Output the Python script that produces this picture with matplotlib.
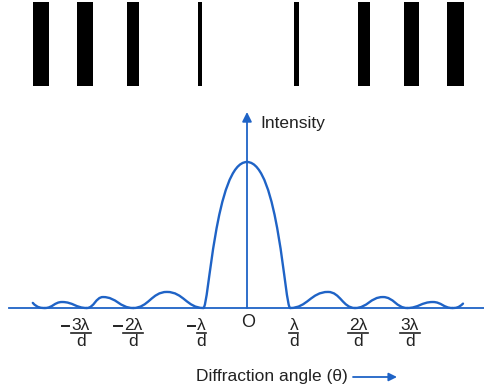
import matplotlib
matplotlib.use("Agg")
import matplotlib.pyplot as plt
import matplotlib.transforms as mtransforms
from matplotlib.path import Path
from matplotlib.patches import PathPatch, Rectangle

plt.rcParams['font.family'] = ['Liberation Sans', 'DejaVu Sans']

BLUE = '#1f63c6'
INK = '#222222'

# fringe pattern on the screen (angle units, 1 unit ~ lambda/d spacing of the sketch)
fringe_pos = [-4.58, -3.60, -2.53, -1.04, 1.10, 2.60, 3.65, 4.63]
fringe_width = [0.36, 0.36, 0.27, 0.09, 0.11, 0.27, 0.33, 0.38]

# intensity curve: minima and side-lobe peaks
central_min = [-0.97, 0.96]
central_peak = 1.0
left_min = [-0.97, -2.53, -3.56, -4.49]
left_peak_x = [-1.78, -3.20, -4.11]
left_peak_h = [0.11, 0.075, 0.041]
right_min = [0.96, 2.40, 3.56, 4.56]
right_peak_x = [1.80, 3.02, 4.13]
right_peak_h = [0.11, 0.075, 0.041]
left_tail = (-4.76, 0.035)
right_tail = (4.80, 0.03)

# tick labels: (position, sign, numerator)
tick_pos = [-3.69, -2.53, -1.02, 1.04, 2.47, 3.62]
tick_sign = ['-', '-', '-', '', '', '']
tick_num = ['3λ', '2λ', 'λ', 'λ', '2λ', '3λ']

fig = plt.figure(figsize=(4.84, 3.89), dpi=100)
ax = fig.add_axes([0, 0, 1, 1])
ax.set_xlim(-247 / 45, 237 / 45)
ax.set_ylim((308 - 389) / 146, 308 / 146)
ax.axis('off')

# fringes
for x, w in zip(fringe_pos, fringe_width):
    ax.add_patch(Rectangle((x - w / 2, (308 - 86) / 146), w, 84 / 146,
                           facecolor='black', edgecolor='none'))


def bump(a, p, h, b):
    # one lobe, horizontal tangents at minima and at peak
    verts = [(a, 0), (a + 0.45 * (p - a), 0), (p - 0.45 * (p - a), h), (p, h),
             (p + 0.45 * (b - p), h), (b - 0.45 * (b - p), 0), (b, 0)]
    codes = [Path.MOVETO] + [Path.CURVE4] * 6
    return Path(verts, codes)


paths = []
# central maximum
a, b = central_min
paths.append(Path([(a, 0), (a + 0.12, 0), (-0.70, central_peak), (0, central_peak),
                   (0.70, central_peak), (b - 0.12, 0), (b, 0)],
                  [Path.MOVETO] + [Path.CURVE4] * 6))
for i in range(3):
    paths.append(bump(left_min[i], left_peak_x[i], left_peak_h[i], left_min[i + 1]))
    paths.append(bump(right_min[i], right_peak_x[i], right_peak_h[i], right_min[i + 1]))
# tails at both ends
paths.append(Path([left_tail, (left_tail[0] + 0.1, 0.0), (left_min[-1] - 0.08, 0), (left_min[-1], 0)],
                  [Path.MOVETO] + [Path.CURVE4] * 3))
paths.append(Path([(right_min[-1], 0), (right_min[-1] + 0.08, 0), (right_tail[0] - 0.1, 0.0), right_tail],
                  [Path.MOVETO] + [Path.CURVE4] * 3))
for p in paths:
    ax.add_patch(PathPatch(p, facecolor='none', edgecolor=BLUE, lw=1.7, capstyle='round'))

# axes lines
ax.plot([-238 / 45, 237 / 45], [0, 0], color=BLUE, lw=1.3)
ax.annotate('', xy=(0, (308 - 112) / 146), xytext=(0, 0),
            arrowprops=dict(arrowstyle='-|>', color=BLUE, lw=1.3,
                            mutation_scale=14, shrinkA=0, shrinkB=0))
ax.text(13 / 45, (308 - 124) / 146, 'Intensity', fontsize=12.5, color=INK, ha='left', va='center')

# x labels
trans = mtransforms.blended_transform_factory(ax.transData, ax.transAxes)


def fy(py):
    return 1 - py / 389


ax.text(1 / 45, fy(322.5), 'O', fontsize=13, color=INK, ha='center', va='center', transform=trans)
for x, s, num in zip(tick_pos, tick_sign, tick_num):
    w = (20 if len(num) > 1 else 9) / 45
    ax.text(x, fy(325), num, fontsize=12.5, color=INK, ha='center', va='center', transform=trans)
    ax.plot([x - w / 2, x + w / 2], [fy(332.5), fy(332.5)], color=INK, lw=1.2, transform=trans)
    ax.text(x, fy(342), 'd', fontsize=12.5, color=INK, ha='center', va='center', transform=trans)
    if s:
        ax.plot([x - w / 2 - 9 / 45, x - w / 2 - 1.5 / 45], [fy(326), fy(326)], color=INK,
                lw=1.4, transform=trans)

ax.text(-51 / 45, fy(377), 'Diffraction angle (θ)', fontsize=12.5, color=INK, ha='left', va='center',
        transform=trans)
ax.annotate('', xy=(150 / 45, fy(377)), xytext=(106 / 45, fy(377)), xycoords=trans, textcoords=trans,
            arrowprops=dict(arrowstyle='-|>', color=BLUE, lw=1.3, mutation_scale=12, shrinkA=0, shrinkB=0))

fig.savefig('out.png', dpi=100)
